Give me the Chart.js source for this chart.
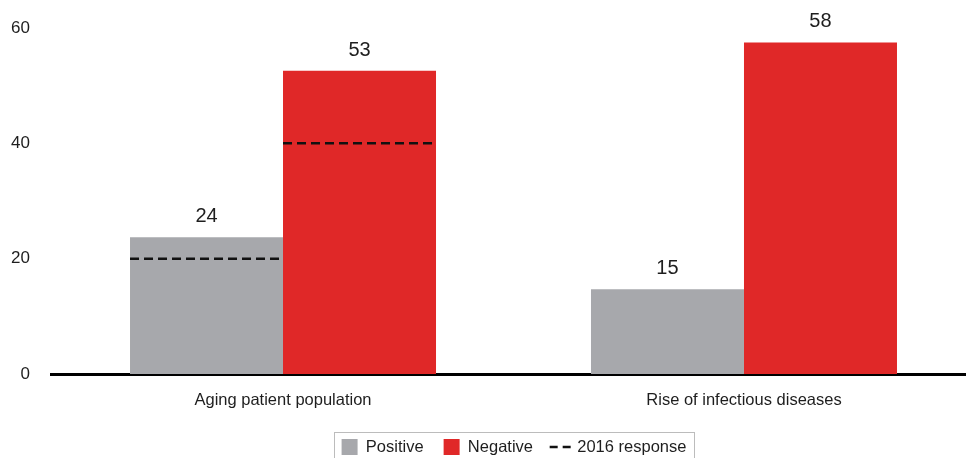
<!DOCTYPE html>
<html>
<head>
<meta charset="utf-8">
<script src="https://cdn.jsdelivr.net/npm/chart.js@4.4.1/dist/chart.umd.min.js"></script>
<style>
  html, body { margin: 0; padding: 0; background: #fff; overflow: hidden; }
  #wrap { position: relative; width: 966px; height: 466px; }
</style>
</head>
<body>
<div id="wrap"><canvas id="myChart"></canvas></div>
<script>
const categories = ['Aging patient population', 'Rise of infectious diseases']
const positive = [23.7, 14.7]
const negative = [52.6, 57.5]
const positive2016 = [20, null]
const negative2016 = [40, null]
const yTicks = [0, 20, 40, 60]

const GRAY = '#a7a8ac'
const RED = '#e02828'
const TEXT = '#1e1e1e'
const FONT = '"Liberation Sans", Arial, sans-serif'

const toPoints = arr => arr.map((v, i) => ({x: i, y: v}))
const priors = [positive2016, negative2016]

// dashed 2016 marks across each bar + value labels above bars
const barExtras = {
    id: 'barExtras',
    afterDatasetsDraw(chart) {
        const ctx = chart.ctx
        const y = chart.scales.y
        ctx.save()
        priors.forEach((prior, d) => {
            const meta = chart.getDatasetMeta(d)
            meta.data.forEach((bar, i) => {
                if (prior[i] == null) return
                const py = y.getPixelForValue(prior[i])
                ctx.beginPath()
                ctx.setLineDash([9, 5])
                ctx.lineWidth = 2.5
                ctx.strokeStyle = '#111'
                ctx.moveTo(bar.x - bar.width / 2, py)
                ctx.lineTo(bar.x + bar.width / 2, py)
                ctx.stroke()
            })
        })
        ctx.setLineDash([])
        ctx.font = '20px ' + FONT
        ctx.fillStyle = TEXT
        ctx.textAlign = 'center'
        ctx.textBaseline = 'middle'
        ;[0, 1].forEach(d => {
            const meta = chart.getDatasetMeta(d)
            meta.data.forEach((bar, i) => {
                const v = chart.data.datasets[d].data[i].y
                ctx.fillText(Math.round(v), bar.x, bar.y - 20.5)
            })
        })
        ctx.restore()
    },
    afterLayout(chart) {
        chart.legend.left += 5.5
        chart.legend.right += 5.5
    },
    afterDraw(chart) {
        const boxes = chart.legend.legendHitBoxes
        if (!boxes || !boxes.length) return
        const first = boxes[0]
        const last = boxes[boxes.length - 1]
        const ctx = chart.ctx
        ctx.save()
        ctx.strokeStyle = '#bcbcbc'
        ctx.lineWidth = 1
        const l = Math.round(first.left - 8) + 0.5
        const r = Math.round(last.left + last.width + 8) + 0.5
        const t = Math.round(first.top - 7) + 0.5
        ctx.strokeRect(l, t, r - l, 40)
        ctx.restore()
    }
}

const ctx = document.getElementById('myChart')

const myChart = new Chart(ctx, {
    type: 'bar',
    data: {
        datasets: [
            {
                label: 'Positive',
                data: toPoints(positive),
                backgroundColor: GRAY,
                borderWidth: 0
            },
            {
                label: 'Negative',
                data: toPoints(negative),
                backgroundColor: RED,
                borderWidth: 0
            }
        ]
    },
    plugins: [barExtras],
    options: {
        responsive: true,
        maintainAspectRatio: false,
        animation: false,
        events: [],
        layout: {padding: {top: 28, left: 0, right: 0, bottom: 0.75}},
        datasets: {
            bar: {categoryPercentage: 0.6638, barPercentage: 1}
        },
        scales: {
            x: {
                type: 'linear',
                offset: false,
                min: -0.5033,
                max: 1.4816,
                grid: {display: false, drawTicks: false, offset: false},
                border: {display: true, color: '#000', width: 3},
                afterBuildTicks: scale => {
                    scale.ticks = categories.map((c, i) => ({value: i}))
                },
                afterFit: scale => { scale.height = 44.75 },
                ticks: {
                    padding: 17,
                    color: TEXT,
                    font: {family: FONT, size: 16.5},
                    maxRotation: 0,
                    callback: v => categories[v]
                }
            },
            y: {
                min: 0,
                max: 60,
                grid: {display: false, drawTicks: false},
                border: {display: false},
                afterBuildTicks: scale => {
                    scale.ticks = yTicks.map(v => ({value: v}))
                },
                afterFit: scale => {
                    scale.width = 51
                    scale.paddingTop = 0
                    scale.paddingBottom = 0
                },
                ticks: {
                    padding: 21,
                    color: TEXT,
                    font: {family: FONT, size: 17}
                }
            }
        },
        plugins: {
            tooltip: {enabled: false},
            legend: {
                position: 'bottom',
                fullSize: false,
                labels: {
                    usePointStyle: true,
                    boxWidth: 16,
                    boxHeight: 16,
                    padding: 20,
                    color: TEXT,
                    font: {family: FONT, size: 16.5},
                    generateLabels: () => [
                        {text: 'Positive', fillStyle: GRAY, strokeStyle: GRAY, lineWidth: 0, pointStyle: 'rect', fontColor: TEXT},
                        {text: 'Negative', fillStyle: RED, strokeStyle: RED, lineWidth: 0, pointStyle: 'rect', fontColor: TEXT},
                        {text: '2016 response', fillStyle: 'rgba(0,0,0,0)', strokeStyle: '#111', lineWidth: 2.5, lineDash: [8, 5], pointStyle: 'line', fontColor: TEXT}
                    ]
                }
            }
        }
    }
})
</script>
</body>
</html>
